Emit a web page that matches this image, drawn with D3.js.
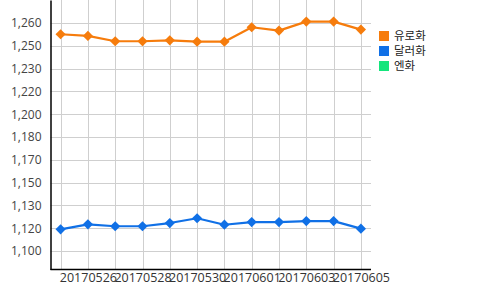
<!DOCTYPE html>
<html>
<head>
<meta charset="utf-8">
<script src="https://cdn.jsdelivr.net/npm/d3@7"></script>
<style>
  body { margin: 0; background: #fff; }
  text { font-family: "Open Sans", "Noto Sans", "Noto Sans CJK KR", sans-serif; }
</style>
</head>
<body>
<svg class="d3-svg"></svg>
<script>
let dates = ["20170525", "20170526", "20170527", "20170528", "20170529", "20170530",
             "20170531", "20170601", "20170602", "20170603", "20170604", "20170605"];
let euro   = [1260.7, 1259.5, 1255.7, 1255.7, 1256.4, 1255.4, 1255.4, 1265.7, 1263.3, 1269.7, 1269.7, 1264.0];
let dollar = [1121.7, 1125.3, 1123.9, 1123.9, 1126.2, 1129.6, 1125.0, 1126.9, 1126.9, 1127.6, 1127.6, 1122.2];
let yen    = [];
let seriesNames  = ["유로화", "달러화", "엔화"];
let seriesColors = ["#f67c0c", "#1070e6", "#14e57c"];
let yTickLabels  = ["1,100", "1,120", "1,130", "1,150", "1,170", "1,180", "1,200", "1,220", "1,230", "1,250", "1,260"];
let xTickLabels  = ["20170526", "20170528", "20170530", "20170601", "20170603", "20170605"];

let width  = 500;
let height = 290;
let plotLeft = 50.5, plotRight = 371, plotTop = 0, plotBottom = 269.5;

let svg = d3.select(".d3-svg").attr("width", width).attr("height", height);

let x = d3.scalePoint().domain(dates).range([plotLeft, plotRight]).padding(0.37);
let y = d3.scaleLinear().domain([1093.1, 1285.1]).range([plotBottom, plotTop]);

let yTicks = d3.range(0, yTickLabels.length).map(i => 1106.25 + i * 16.25);

// grid
svg.append("g")
  .selectAll("line")
  .data(yTicks)
  .enter().append("line")
  .attr("x1", plotLeft).attr("x2", plotRight)
  .attr("y1", d => Math.round(y(d)) + 0.5).attr("y2", d => Math.round(y(d)) + 0.5)
  .attr("stroke", "#cfcfcf").attr("stroke-width", 1);

svg.append("g")
  .selectAll("line")
  .data(dates)
  .enter().append("line")
  .attr("x1", d => Math.round(x(d)) + 0.5).attr("x2", d => Math.round(x(d)) + 0.5)
  .attr("y1", plotTop).attr("y2", plotBottom)
  .attr("stroke", "#cfcfcf").attr("stroke-width", 1);

// axes
svg.append("g")
  .attr("transform", "translate(" + plotLeft + ",0)")
  .call(d3.axisLeft(y).tickValues(yTicks).tickSize(0).tickPadding(9)
    .tickFormat((d, i) => yTickLabels[i]))
  .call(g => g.select(".domain").attr("stroke", "#000").attr("stroke-width", 1.5))
  .selectAll("text")
  .attr("font-size", 12)
  .attr("fill", "#444");

svg.append("g")
  .attr("transform", "translate(0," + plotBottom + ")")
  .call(d3.axisBottom(x).tickValues(dates.filter(d => xTickLabels.includes(d))).tickSize(0).tickPadding(4))
  .call(g => g.select(".domain").attr("stroke", "#000").attr("stroke-width", 1.5).attr("d", "M" + plotLeft + ",0H" + plotRight))
  .selectAll("text")
  .attr("font-size", 12.5)
  .attr("fill", "#333");

// lines
let line = d3.line()
  .x((d, i) => x(dates[i]))
  .y(d => y(d));

[euro, dollar, yen].forEach((data, s) => {
  if (!data.length) return;
  svg.append("path")
    .attr("fill", "none")
    .attr("stroke", seriesColors[s])
    .attr("stroke-width", 2.2)
    .attr("stroke-linejoin", "round")
    .attr("d", line(data));

  // markers: squares turned 45 degrees
  svg.append("g")
    .selectAll("path")
    .data(data)
    .enter().append("path")
    .attr("transform", (d, i) => "translate(" + x(dates[i]) + "," + y(d) + ") rotate(45)")
    .attr("d", d3.symbol().type(d3.symbolSquare).size(52))
    .attr("fill", seriesColors[s]);
});

// legend
let legend = svg.append("g").attr("transform", "translate(379,31)");
seriesNames.forEach((name, i) => {
  let g = legend.append("g").attr("transform", "translate(0," + (i * 15) + ")");
  g.append("rect").attr("width", 10).attr("height", 10).attr("fill", seriesColors[i]);
  g.append("text").attr("x", 15).attr("y", 5).attr("dy", "0.36em")
    .attr("font-size", 11.5).attr("fill", "#222").text(name);
});
</script>
</body>
</html>
